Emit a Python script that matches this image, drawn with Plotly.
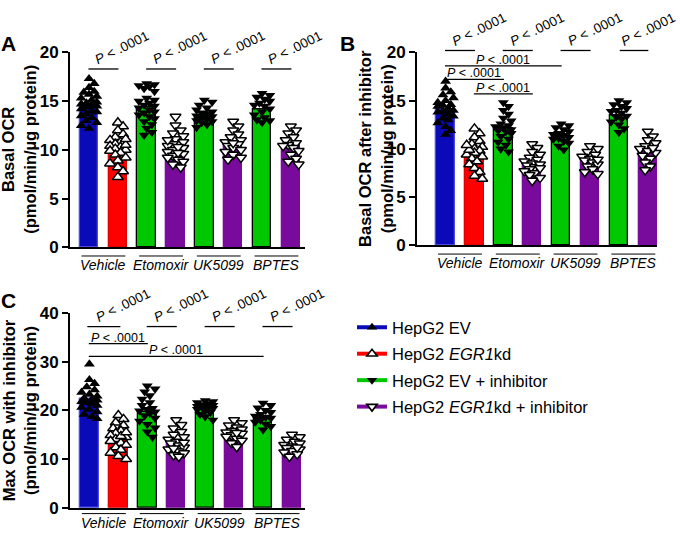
import plotly.graph_objects as go

# ---------------- data ----------------
groups = ["Vehicle", "Etomoxir", "UK5099", "BPTES"]
series_names = ["HepG2 EV", "HepG2 <i>EGR1</i>kd",
                "HepG2 EV + inhibitor", "HepG2 <i>EGR1</i>kd + inhibitor"]
bar_series = [0, 1, 2, 3, 2, 3, 2, 3]   # series of each of the 8 bars

# Panel A: Basal OCR
basal_mean = [14.5, 10.1, 14.4, 10.15, 13.5, 10.65, 14.1, 10.5]
basal_pts = [
    [17.3, 16.8, 16.4, 16.0, 15.7, 15.5, 15.3, 15.1, 14.9, 14.8, 14.6, 14.5, 14.4, 14.2, 14.0, 13.9, 13.7, 13.5, 13.3, 13.0, 12.8, 12.5, 12.2, 15.9, 14.7],
    [12.8, 12.4, 12.0, 11.6, 11.3, 11.0, 10.8, 10.6, 10.4, 10.3, 10.1, 10.0, 9.9, 9.7, 9.5, 9.2, 8.9, 8.6, 8.2, 7.8, 7.2, 10.5, 11.1],
    [16.8, 16.7, 16.6, 16.5, 16.3, 16.0, 15.3, 15.0, 14.8, 14.5, 14.3, 14.1, 13.9, 13.6, 13.4, 13.2, 12.9, 12.6, 12.2, 11.8, 11.5, 14.6, 15.1, 13.8],
    [13.4, 12.5, 12.0, 11.7, 11.4, 11.1, 10.8, 10.6, 10.4, 10.2, 10.0, 9.8, 9.6, 9.4, 9.2, 9.0, 8.8, 8.5, 8.2, 10.3, 9.7, 11.0],
    [15.1, 14.9, 14.6, 14.3, 14.1, 13.9, 13.7, 13.5, 13.4, 13.2, 13.0, 12.8, 12.6, 12.3, 13.8, 13.3, 12.9],
    [12.9, 12.4, 12.0, 11.6, 11.3, 11.0, 10.8, 10.6, 10.4, 10.2, 10.0, 9.8, 9.5, 9.2, 9.0, 10.7],
    [15.8, 15.6, 15.4, 15.2, 15.0, 14.8, 14.5, 14.2, 13.9, 13.6, 13.3, 13.0, 12.8, 13.1, 14.6],
    [12.4, 12.0, 11.7, 11.3, 11.0, 10.7, 10.5, 10.2, 9.9, 9.5, 9.1, 8.8, 8.5, 10.4],
]

# Panel B: Basal OCR after inhibitor
after_mean = [14.1, 9.45, 12.1, 8.3, 11.3, 8.8, 13.45, 9.95]
after_pts = [
    [17.0, 16.3, 15.9, 15.6, 15.3, 15.0, 14.8, 14.6, 14.4, 14.2, 14.0, 13.8, 13.6, 13.4, 13.2, 13.0, 12.7, 12.3, 11.9, 11.5, 14.5, 13.9],
    [12.1, 11.6, 11.2, 10.8, 10.5, 10.2, 10.0, 9.8, 9.6, 9.4, 9.2, 9.0, 8.7, 8.4, 8.0, 7.6, 7.2, 6.9, 9.9, 10.4],
    [14.8, 14.4, 14.0, 13.6, 13.2, 12.9, 12.6, 12.4, 12.2, 12.0, 11.8, 11.6, 11.3, 11.0, 10.7, 10.4, 10.0, 9.7, 12.3, 11.9],
    [10.5, 10.1, 9.7, 9.4, 9.1, 8.9, 8.7, 8.5, 8.3, 8.1, 7.9, 7.7, 7.5, 7.3, 7.0, 6.7, 8.4, 8.0],
    [12.6, 12.4, 12.2, 12.0, 11.8, 11.6, 11.4, 11.2, 11.0, 10.8, 10.6, 10.3, 9.9, 11.5, 11.1],
    [10.3, 10.0, 9.7, 9.4, 9.2, 9.0, 8.8, 8.6, 8.4, 8.2, 7.9, 7.6, 7.4, 8.9],
    [15.0, 14.8, 14.6, 14.4, 14.2, 14.0, 13.7, 13.4, 13.1, 12.8, 12.5, 12.1, 11.7, 13.3, 13.9],
    [11.8, 11.3, 10.9, 10.6, 10.3, 10.0, 9.8, 9.6, 9.3, 9.0, 8.6, 8.2, 7.8, 10.1],
]

# Panel C: Max OCR with inhibitor
max_mean = [22.35, 14.5, 19.6, 13.35, 20.5, 15.3, 18.5, 12.4]
max_pts = [
    [29.5, 26.3, 25.5, 24.8, 24.2, 23.7, 23.3, 22.9, 22.5, 22.1, 21.8, 21.4, 21.0, 20.6, 20.2, 19.7, 19.2, 18.7, 18.3, 22.3, 21.6],
    [19.0, 18.2, 17.5, 16.9, 16.3, 15.8, 15.3, 14.9, 14.5, 14.1, 13.7, 13.3, 12.9, 12.4, 11.9, 11.3, 10.6, 10.0, 14.7, 15.5],
    [25.0, 24.4, 23.8, 23.0, 22.3, 21.6, 21.0, 20.4, 19.9, 19.4, 18.9, 18.4, 17.8, 17.1, 16.4, 15.6, 14.5, 19.7, 20.2],
    [18.0, 17.0, 16.3, 15.6, 15.0, 14.5, 14.0, 13.6, 13.2, 12.8, 12.4, 12.0, 11.6, 11.2, 10.8, 10.5, 13.4, 12.2],
    [22.0, 21.8, 21.6, 21.4, 21.2, 21.0, 20.8, 20.6, 20.4, 20.2, 19.9, 19.6, 19.2, 18.7, 18.0, 20.5],
    [18.0, 17.4, 16.9, 16.5, 16.1, 15.8, 15.5, 15.2, 14.9, 14.6, 14.2, 13.8, 13.3, 12.5, 15.4],
    [21.5, 21.0, 20.5, 20.0, 19.6, 19.2, 18.8, 18.4, 18.0, 17.6, 17.2, 16.7, 16.0, 18.6],
    [15.0, 14.5, 14.0, 13.6, 13.2, 12.9, 12.6, 12.3, 12.0, 11.7, 11.4, 11.0, 10.5, 12.4],
]

p_text = "<i>P</i> < .0001"
# significance comparisons: (bar i, bar j, y level, style)
sig_A = [(0, 1, 18.3, "rot"), (2, 3, 18.3, "rot"), (4, 5, 18.3, "rot"), (6, 7, 18.3, "rot")]
sig_B = [(0, 1, 20.2, "rot"), (2, 3, 20.2, "rot"), (4, 5, 20.2, "rot"), (6.05, 7.0, 20.2, "rot"),
         (0, 4, 18.6, "flat"), (0, 2, 17.2, "flat"), (1, 3, 15.7, "flat")]
sig_C = [(-0.05, 1.05, 37.2, "rot"), (2, 3, 37.2, "rot"), (4, 5, 37.2, "rot"), (6, 7, 37.2, "rot"),
         (0, 2, 33.7, "flat"), (0, 6, 31.1, "flat")]

# ---------------- style ----------------
colors = ["#0A0AB8", "#FF0000", "#00C800", "#780A9C"]
edge = ["#4A4AE0", "#E00000", "#000000", "#780A9C"]
symbols = ["triangle-up", "triangle-up", "triangle-down", "triangle-down"]
filled = [True, False, True, False]
FONT = "Arial, Liberation Sans, sans-serif"
W, H = 680, 540

panels = [
    dict(mean=basal_mean, pts=basal_pts, sig=sig_A, xd=[70, 305], yd=[247, 45],
         xr=[-0.66, 7.49], yr=[0, 20], dt=5, letter="A", lxy=(8, 36),
         title="Basal OCR<br>(pmol/min/µg protein)", tx=19, lab_y=(256, 265)),
    dict(mean=after_mean, pts=after_pts, sig=sig_B, xd=[417, 657], yd=[245, 45],
         xr=[-0.99, 7.32], yr=[0, 20], dt=5, letter="B", lxy=(347, 36),
         title="Basal OCR after inhibitor<br>(pmol/min/µg protein)", tx=376, lab_y=(254, 263)),
    dict(mean=max_mean, pts=max_pts, sig=sig_C, xd=[70, 305], yd=[517, 315],
         xr=[-0.67, 7.45], yr=[0, 40], dt=10, letter="C", lxy=(8, 302),
         title="Max OCR with inhibitor<br>(pmol/min/µg protein)", tx=19, lab_y=(523, 533)),
]


def swarm(vals, ypx, xpx, step=2.6, maxoff=8.0, mind=6.5):
    """Deterministic beeswarm offsets (in axis units) for overlapping points."""
    order = sorted(range(len(vals)), key=lambda i: -vals[i])
    cands = [0.0]
    k = 1
    while k * step <= maxoff:
        cands += [k * step, -k * step]
        k += 1
    placed, offs = [], [0.0] * len(vals)
    for i in order:
        y = vals[i] * ypx
        best, bestd = 0.0, -1
        for c in cands:
            d = min([((c - px) ** 2 + (y - py) ** 2) ** 0.5 for px, py in placed] or [1e9])
            if d >= mind:
                best = c
                break
            if d > bestd:
                bestd, best = d, c
        offs[i] = best / xpx
        placed.append((best, y))
    return offs


fig = go.Figure()
annotations, shapes = [], []
layout = {}

for k, p in enumerate(panels):
    sfx = "" if k == 0 else str(k + 1)
    xa, ya = "x" + sfx, "y" + sfx
    xpx = (p["xd"][1] - p["xd"][0]) / (p["xr"][1] - p["xr"][0])
    ypx = (p["yd"][0] - p["yd"][1]) / (p["yr"][1] - p["yr"][0])
    ydom = [1 - p["yd"][0] / H, 1 - p["yd"][1] / H]

    def to_paper(v, ydom=ydom, yr=p["yr"]):
        return ydom[0] + (v - yr[0]) / (yr[1] - yr[0]) * (ydom[1] - ydom[0])

    xs = list(range(8))
    fig.add_trace(go.Bar(
        x=xs, y=p["mean"], width=0.64, xaxis=xa, yaxis=ya, showlegend=False,
        marker=dict(color=[colors[s] for s in bar_series],
                    line=dict(color=[edge[s] for s in bar_series], width=1.3)),
        hoverinfo="skip"))
    for b in range(8):
        s = bar_series[b]
        vals = p["pts"][b]
        offs = swarm(vals, ypx, xpx)
        fig.add_trace(go.Scatter(
            x=[b + o for o in offs], y=vals, mode="markers", xaxis=xa, yaxis=ya,
            showlegend=False, cliponaxis=False,
            marker=dict(symbol=symbols[s], size=9.5,
                        color="black" if filled[s] else "white",
                        line=dict(color="black", width=0 if filled[s] else 1.5))))
    layout["xaxis" + sfx] = dict(
        domain=[p["xd"][0] / W, p["xd"][1] / W], range=p["xr"], anchor=ya,
        showline=True, linecolor="black", linewidth=2, showgrid=False,
        zeroline=False, showticklabels=False, ticks="", fixedrange=True)
    layout["yaxis" + sfx] = dict(
        domain=ydom, range=p["yr"], anchor=xa,
        showline=True, linecolor="black", linewidth=2, showgrid=False,
        zeroline=False, ticks="outside", ticklen=6, tickwidth=2, tickcolor="black",
        tickvals=list(range(p["yr"][0], p["yr"][1] + 1, p["dt"])),
        tickfont=dict(family=FONT, size=17, color="black", weight="bold"))
    # panel letter
    annotations.append(dict(text="<b>%s</b>" % p["letter"], x=p["lxy"][0] / W, y=1 - p["lxy"][1] / H,
                            xref="paper", yref="paper", showarrow=False,
                            xanchor="center", yanchor="middle",
                            font=dict(family=FONT, size=21, color="black")))
    # y title
    ymid = 1 - (p["yd"][0] + p["yd"][1]) / 2 / H
    annotations.append(dict(text=p["title"], x=p["tx"] / W, y=ymid, xref="paper", yref="paper",
                            textangle=-90, showarrow=False, xanchor="center", yanchor="middle",
                            font=dict(family=FONT, size=16.5, color="black", weight="bold")))
    # category labels with overline
    for g, name in enumerate(groups):
        c = 2 * g + 0.5
        annotations.append(dict(text="<i>%s</i>" % name, x=c, y=1 - p["lab_y"][1] / H,
                                xref=xa, yref="paper", showarrow=False, yanchor="middle",
                                font=dict(family=FONT, size=14, color="black")))
        shapes.append(dict(type="line", xref=xa, yref="paper", x0=c - 0.76, x1=c + 0.76,
                           y0=1 - p["lab_y"][0] / H, y1=1 - p["lab_y"][0] / H,
                           line=dict(color="black", width=1)))
    # significance
    for (i, j, yl, style) in p["sig"]:
        yp = to_paper(yl)
        shapes.append(dict(type="line", xref=xa, yref="paper", x0=i - 0.02, x1=j + 0.02, y0=yp, y1=yp,
                           line=dict(color="black", width=1.3)))
        if style == "rot":
            # keep the right-most rotated label inside the page
            xs_shift = 19 if (k != 1 or i < 6) else 14
            annotations.append(dict(text=p_text, x=(i + j) / 2, y=yp, xref=xa, yref="paper",
                                    showarrow=False, textangle=-26, xshift=xs_shift, yshift=21,
                                    xanchor="center", yanchor="middle", borderpad=0,
                                    font=dict(family=FONT, size=13.5, color="black")))
        else:
            annotations.append(dict(text=p_text, x=(i + j) / 2, y=yp, xref=xa, yref="paper",
                                    showarrow=False, xanchor="center", yanchor="bottom",
                                    yshift=-2, borderpad=0,
                                    font=dict(family=FONT, size=12.5, color="black")))

# legend entries
for s in range(4):
    fig.add_trace(go.Scatter(
        x=[None], y=[None], mode="lines+markers", name=series_names[s], legendgroup=str(s),
        line=dict(color=colors[s], width=4),
        marker=dict(symbol=symbols[s], size=9, color="black" if filled[s] else "white",
                    line=dict(color="black", width=0 if filled[s] else 1.6))))

fig.update_layout(
    width=W, height=H, margin=dict(l=0, r=0, t=0, b=0),
    plot_bgcolor="white", paper_bgcolor="white",
    font=dict(family=FONT, color="black"),
    showlegend=True,
    legend=dict(x=352 / W, y=1 - 312 / H, xanchor="left", yanchor="top",
                font=dict(family=FONT, size=16.5, color="black"),
                traceorder="grouped", tracegroupgap=2, bgcolor="rgba(0,0,0,0)"),
    annotations=annotations, shapes=shapes, bargap=0, **layout)

fig.write_html("out.html")
